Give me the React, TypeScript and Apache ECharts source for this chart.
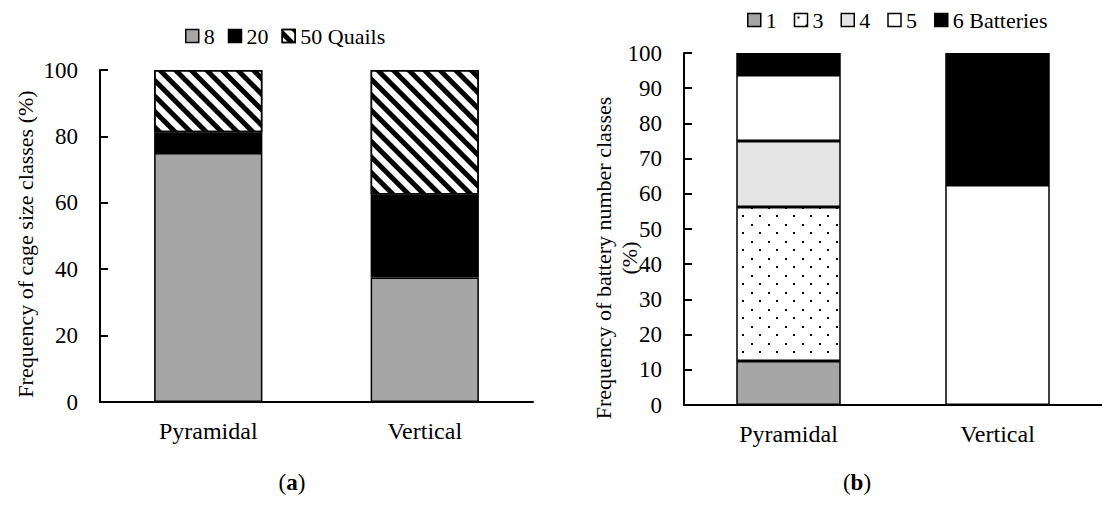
import React, { useEffect, useRef } from "react";
import * as echarts from "echarts";

const categories = ["Pyramidal", "Vertical"];

// Panel (a): cage size classes
const cageNames = ["8", "20", "50 Quails"];
const cage8 = [75, 37.5];
const cage20 = [6.25, 25];
const cage50 = [18.75, 37.5];

// Panel (b): battery number classes
const batteryNames = ["1", "3", "4", "5", "6 Batteries"];
const bat1: (number | string)[] = [12.5, "-"];
const bat3: (number | string)[] = [43.75, "-"];
const bat4: (number | string)[] = [18.75, "-"];
const bat5 = [18.75, 62.5];
const bat6 = [6.25, 37.5];

const yTicksA = { min: 0, max: 100, interval: 20 };
const yTicksB = { min: 0, max: 100, interval: 10 };

const FONT = "Liberation Serif";

function dotTile() {
  const c = document.createElement("canvas");
  c.width = 17;
  c.height = 17;
  const g = c.getContext("2d")!;
  g.fillStyle = "#fff";
  g.fillRect(0, 0, 17, 17);
  g.fillStyle = "#000";
  g.fillRect(3, 3, 2, 2);
  g.fillRect(11, 11, 2, 2);
  return c;
}

export default function App() {
  const ref = useRef<HTMLDivElement>(null);
  useEffect(() => {
    if (!ref.current) return;
    const chart = echarts.init(ref.current, null, { renderer: "svg" });
    const border = { borderColor: "#000", borderWidth: 1.5 };
    const stripes = {
      symbol: "rect",
      dashArrayX: [1, 0],
      dashArrayY: [4.5, 5.5],
      rotation: Math.PI / 4,
      color: "#000",
      backgroundColor: "#fff",
    };
    const dotFill: any = { image: dotTile(), repeat: "repeat" };
    const axisY = (grid: number, t: any) => ({
      type: "value",
      gridIndex: grid,
      min: t.min,
      max: t.max,
      interval: t.interval,
      splitLine: { show: false },
      axisLine: { show: true, lineStyle: { color: "#000", width: 2 } },
      axisTick: { show: true, inside: true, length: 8, lineStyle: { color: "#000", width: 2 } },
      axisLabel: { color: "#000", fontFamily: FONT, fontSize: 23, margin: 22 },
    });
    const axisX = (grid: number) => ({
      type: "category",
      gridIndex: grid,
      data: categories,
      axisLine: { show: true, lineStyle: { color: "#000", width: 2 } },
      axisTick: { show: false },
      axisLabel: { color: "#000", fontFamily: FONT, fontSize: 24, margin: 17 },
    });
    const bar = (name: string, data: any[], grid: number, stack: string, color: any, decal?: any) => ({
      type: "bar",
      name,
      data,
      stack,
      xAxisIndex: grid,
      yAxisIndex: grid,
      barWidth: "50%",
      itemStyle: { color, ...border, ...(decal ? { decal } : {}) },
    });
    const legendText = { fontFamily: FONT, fontSize: 22, color: "#000" };
    chart.setOption({
      animation: false,
      backgroundColor: "#fff",
      textStyle: { fontFamily: FONT, color: "#000" },
      grid: [
        { left: 100, right: 569, top: 70, bottom: 105 },
        { left: 684, right: -10, top: 53, bottom: 102 },
      ],
      legend: [
        {
          data: cageNames,
          left: 180,
          top: 20,
          itemWidth: 13,
          itemHeight: 13,
          itemGap: 13,
          icon: "rect",
          textStyle: legendText,
          itemStyle: { borderColor: "#000", borderWidth: 1.5 },
        },
        {
          data: batteryNames,
          left: 742,
          top: 4,
          itemWidth: 13,
          itemHeight: 13,
          itemGap: 17,
          icon: "rect",
          textStyle: legendText,
          itemStyle: { borderColor: "#000", borderWidth: 1.5 },
        },
      ],
      xAxis: [axisX(0), axisX(1)],
      yAxis: [axisY(0, yTicksA), axisY(1, yTicksB)],
      series: [
        bar(cageNames[0], cage8, 0, "a", "#a6a6a6"),
        bar(cageNames[1], cage20, 0, "a", "#000"),
        bar(cageNames[2], cage50, 0, "a", "#fff", stripes),
        bar(batteryNames[0], bat1, 1, "b", "#a6a6a6"),
        bar(batteryNames[1], bat3, 1, "b", dotFill),
        bar(batteryNames[2], bat4, 1, "b", "#e4e4e4"),
        bar(batteryNames[3], bat5, 1, "b", "#fff"),
        bar(batteryNames[4], bat6, 1, "b", "#000"),
      ],
      graphic: [
        {
          type: "text",
          x: 25,
          y: 244,
          rotation: Math.PI / 2,
          style: {
            text: "Frequency of cage size classes (%)",
            fontFamily: FONT,
            fontSize: 22,
            fill: "#000",
            textAlign: "center",
            textVerticalAlign: "middle",
          },
        },
        {
          type: "text",
          x: 616,
          y: 258,
          rotation: Math.PI / 2,
          style: {
            text: "Frequency of battery number classes\n(%)",
            fontFamily: FONT,
            fontSize: 22,
            lineHeight: 26,
            fill: "#000",
            textAlign: "center",
            textVerticalAlign: "middle",
          },
        },
        {
          type: "text",
          x: 292,
          y: 482,
          style: {
            text: "{p|(}{b|a}{p|)}",
            textAlign: "center",
            textVerticalAlign: "middle",
            rich: {
              p: { fontFamily: FONT, fontSize: 23, fill: "#000" },
              b: { fontFamily: FONT, fontSize: 23, fontWeight: "bold", fill: "#000" },
            },
          },
        },
        {
          type: "text",
          x: 857,
          y: 482,
          style: {
            text: "{p|(}{b|b}{p|)}",
            textAlign: "center",
            textVerticalAlign: "middle",
            rich: {
              p: { fontFamily: FONT, fontSize: 23, fill: "#000" },
              b: { fontFamily: FONT, fontSize: 23, fontWeight: "bold", fill: "#000" },
            },
          },
        },
      ],
    });
    return () => chart.dispose();
  }, []);
  return (
    <div
      ref={ref}
      style={{ position: "fixed", left: 0, top: 0, width: 1102, height: 507 }}
    />
  );
}
